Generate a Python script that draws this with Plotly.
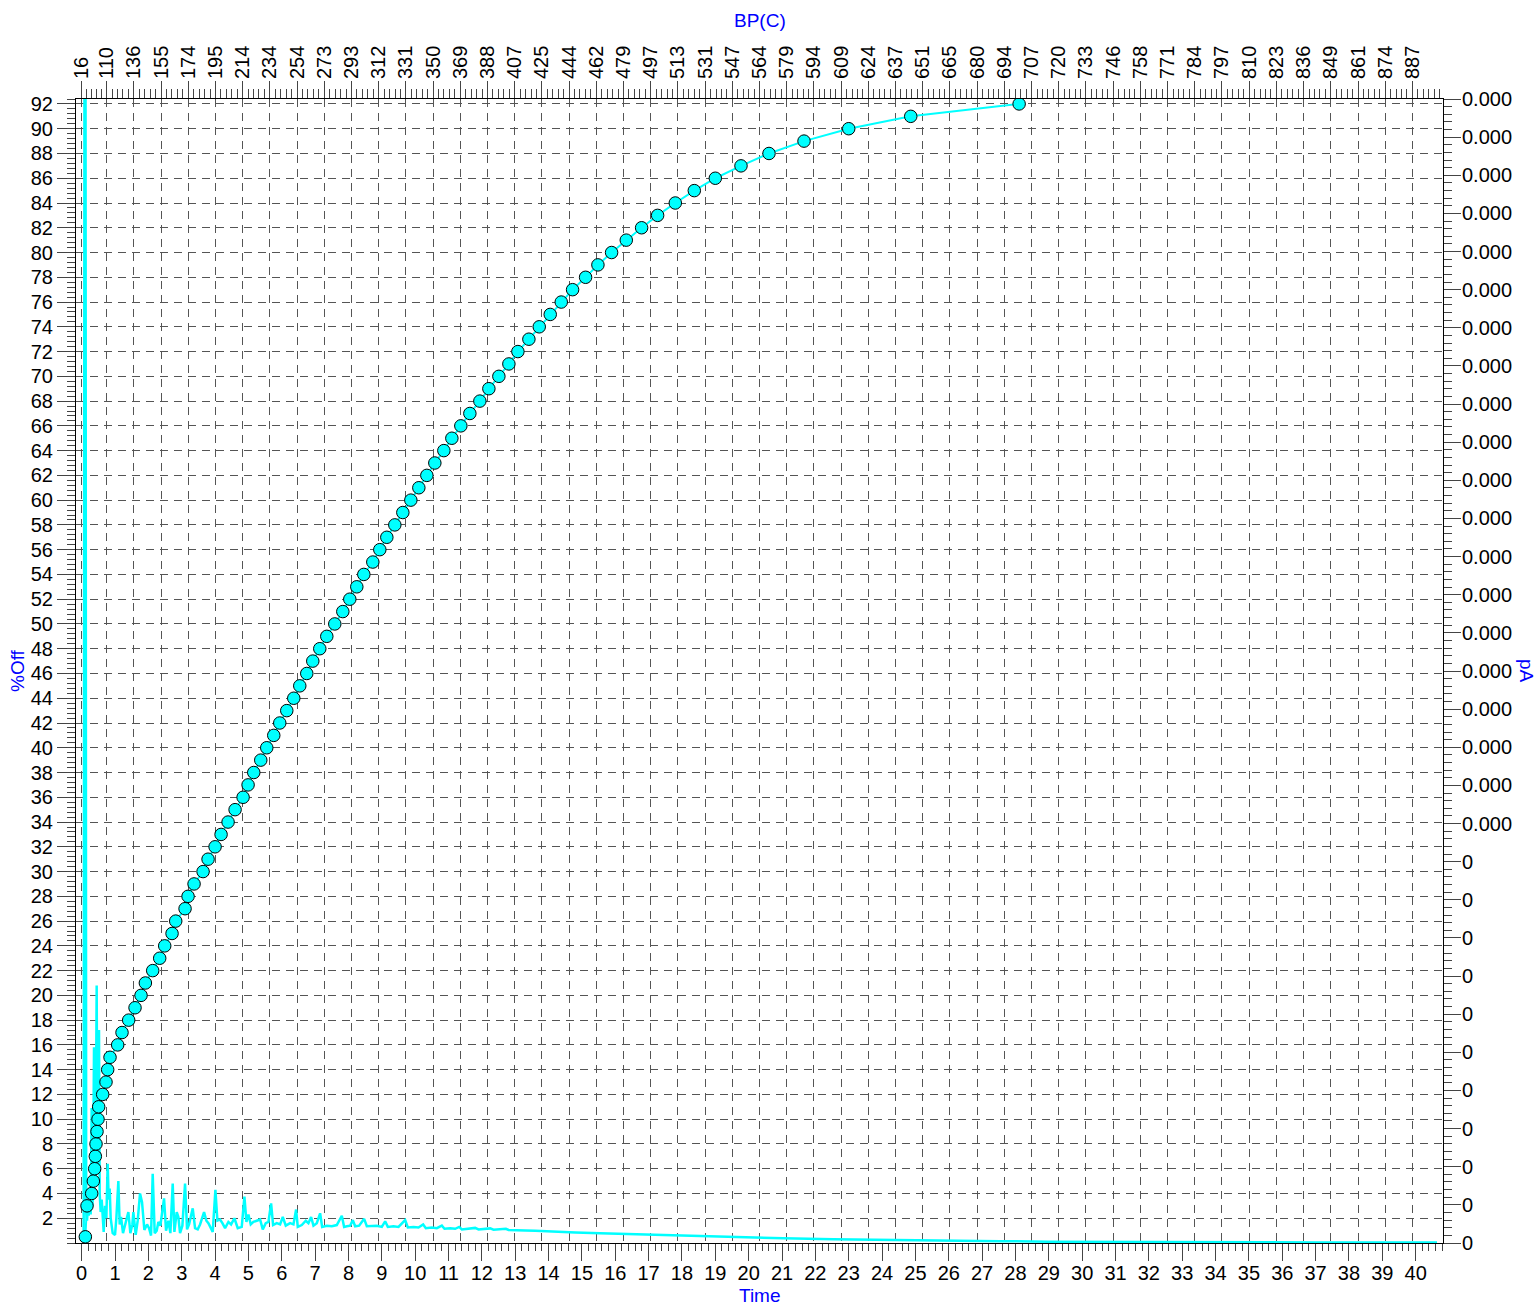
import plotly.graph_objects as go

# ---------------- data ----------------
# Simulated-distillation curve: %Off vs retention time (min)
pct_off = [0.5] + list(range(3, 93))
time_min = [0.11, 0.16, 0.30, 0.35, 0.39, 0.41, 0.43, 0.46, 0.49, 0.51,
            0.63, 0.73, 0.78, 0.85, 1.08, 1.21, 1.41, 1.60, 1.78, 1.91,
            2.13, 2.34, 2.49, 2.71, 2.82, 3.10, 3.19, 3.37, 3.64, 3.79,
            4.00, 4.18, 4.39, 4.60, 4.84, 4.99, 5.16, 5.37, 5.55, 5.76,
            5.94, 6.15, 6.36, 6.54, 6.75, 6.93, 7.14, 7.35, 7.59, 7.83,
            8.04, 8.25, 8.46, 8.73, 8.94, 9.15, 9.39, 9.63, 9.87, 10.11,
            10.35, 10.59, 10.86, 11.10, 11.37, 11.64, 11.94, 12.21, 12.51, 12.81,
            13.08, 13.41, 13.72, 14.05, 14.38, 14.72, 15.11, 15.48, 15.89, 16.33,
            16.79, 17.27, 17.80, 18.37, 19.00, 19.77, 20.61, 21.66, 23.00, 24.86,
            28.11]

# Chromatogram signal (pA axis, plotted on the same visual scale)
chrom_t = [0.00, 0.06, 0.085, 0.115, 0.135, 0.16, 0.18, 0.21, 0.24, 0.27,
           0.30, 0.32, 0.34, 0.37, 0.39, 0.42, 0.45, 0.47, 0.49, 0.52,
           0.54, 0.57, 0.60, 0.63, 0.66, 0.70, 0.74, 0.78, 0.81, 0.84,
           0.87, 0.93, 1.00, 1.04, 1.10, 1.14, 1.18, 1.24, 1.32, 1.40,
           1.46, 1.52, 1.55, 1.62, 1.68, 1.75, 1.81, 1.88, 1.96, 2.02,
           2.08, 2.13, 2.19, 2.25, 2.30, 2.36, 2.47, 2.53, 2.60, 2.66,
           2.73, 2.78, 2.85, 2.90, 2.95, 3.02, 3.10, 3.16, 3.22, 3.33,
           3.40, 3.48, 3.55, 3.67, 3.74, 3.80, 3.93, 4.01, 4.07, 4.15,
           4.22, 4.30, 4.40, 4.48, 4.58, 4.68, 4.80, 4.88, 4.94, 5.00,
           5.07, 5.15, 5.25, 5.35, 5.43, 5.52, 5.60, 5.68, 5.74, 5.85,
           5.95, 6.03, 6.12, 6.25, 6.35, 6.43, 6.48, 6.60, 6.72, 6.80,
           6.88, 6.95, 7.05, 7.15, 7.21, 7.35, 7.50, 7.65, 7.80, 7.87,
           7.95, 8.05, 8.13, 8.20, 8.32, 8.47, 8.55, 8.70, 8.85, 9.00,
           9.10, 9.18, 9.35, 9.50, 9.70, 9.78, 9.95, 10.10, 10.24, 10.32,
           10.50, 10.65, 10.80, 10.88, 11.05, 11.20, 11.32, 11.40, 11.60, 11.80,
           11.90, 12.10, 12.25, 12.35, 12.55, 12.72, 12.80, 13.04, 13.30, 13.60,
           14.04, 14.80, 15.54, 16.30, 17.04, 17.80, 18.54, 19.54, 20.30, 21.04,
           22.54, 24.04, 25.54, 27.54, 29.00, 31.00, 34.00, 37.00, 40.64]
chrom_pA = [0.3, 0.4, 100, 100, 2.5, 1.8, 2.6, 2.2, 3.3, 2.3,
            10.9, 3.0, 4.0, 15.8, 5.0, 8.0, 20.8, 6.0, 9.0, 17.2,
            4.0, 2.5, 3.5, 1.5, 0.9, 3.0, 2.0, 6.4, 3.5, 4.4,
            2.0, 0.8, 0.65, 2.0, 5.0, 1.5, 2.1, 0.8, 1.6, 2.5,
            0.8, 1.5, 2.5, 0.65, 1.8, 4.0, 3.3, 1.05, 1.5, 1.2,
            0.6, 5.6, 0.8, 1.0, 1.7, 1.4, 3.6, 1.0, 1.8, 0.8,
            4.8, 0.9, 2.5, 2.1, 0.8, 1.4, 4.8, 1.1, 1.5, 2.8,
            1.2, 1.1, 1.5, 2.5, 1.8, 1.6, 0.9, 4.3, 1.8, 1.9,
            1.6, 1.2, 1.7, 1.5, 2.0, 1.2, 1.3, 3.75, 1.7, 2.3,
            1.5, 1.7, 1.8, 1.9, 1.1, 1.6, 1.7, 3.2, 1.45, 1.6,
            1.5, 2.1, 1.4, 1.6, 1.5, 2.7, 1.3, 1.45, 1.8, 1.6,
            2.1, 1.4, 1.6, 2.4, 1.3, 1.4, 1.35, 1.45, 2.2, 1.3,
            1.35, 1.4, 1.85, 1.35, 1.4, 1.95, 1.35, 1.35, 1.4, 1.3,
            1.75, 1.3, 1.35, 1.3, 1.85, 1.25, 1.3, 1.25, 1.5, 1.2,
            1.25, 1.2, 1.4, 1.15, 1.2, 1.15, 1.3, 1.1, 1.15, 1.22,
            1.1, 1.12, 1.18, 1.08, 1.1, 1.15, 1.05, 1.05, 1.0, 0.98,
            0.92, 0.85, 0.78, 0.72, 0.65, 0.61, 0.57, 0.47, 0.42, 0.38,
            0.30, 0.24, 0.19, 0.15, 0.11, 0.08, 0.06, 0.05, 0.05]

# Top axis (boiling point, C) tick labels
bp_labels = ["16", "110", "136", "155", "174", "195", "214", "234", "254", "273",
             "293", "312", "331", "350", "369", "388", "407", "425", "444", "462",
             "479", "497", "513", "531", "547", "564", "579", "594", "609", "624",
             "637", "651", "665", "680", "694", "707", "720", "733", "746", "758",
             "771", "784", "797", "810", "823", "836", "849", "861", "874", "887"]

# Right axis (pA) tick labels, bottom to top
pA_labels = ["0"] * 11 + ["0.000"] * 20

# Left axis tick labels
pct_ticks = list(range(2, 93, 2))

# ---------------- layout helpers ----------------
X_RANGE = [-0.17, 40.82]
Y_RANGE = [0, 92.4]
FONT = "Liberation Sans, Arial, sans-serif"
BLUE = "#0000FF"
CYAN = "#00FFFF"
TICKC = "#444444"
GRIDC = "#555555"
DASH = "8px,6px"

bp_step = 0.8157
bp_pos = [0.0] + [0.749 + k * bp_step for k in range(len(bp_labels) - 1)]
bp_minor = []
for a, b in zip(bp_pos[:-1], bp_pos[1:]):
    for j in range(1, 5):
        bp_minor.append(a + (b - a) * j / 5)
p = bp_pos[-1] + bp_step / 5
while p < X_RANGE[1]:
    bp_minor.append(p)
    p += bp_step / 5

pA_step = (Y_RANGE[1] - Y_RANGE[0]) / 30
pA_pos = [k * pA_step for k in range(31)]

fig = go.Figure()

fig.add_trace(go.Scatter(
    x=chrom_t, y=chrom_pA, mode="lines", xaxis="x", yaxis="y",
    line=dict(color=CYAN, width=2.5), showlegend=False, name="pA"))

fig.add_trace(go.Scatter(
    x=[None], y=[None], mode="lines", xaxis="x2", yaxis="y",
    showlegend=False, hoverinfo="skip"))

fig.add_trace(go.Scatter(
    x=time_min, y=pct_off, mode="lines+markers", xaxis="x", yaxis="y2",
    line=dict(color=CYAN, width=2),
    marker=dict(size=12.5, color=CYAN, line=dict(color="black", width=1)),
    showlegend=False, name="%Off"))

tickfont = dict(family=FONT, size=20, color="black")
TS = 19

fig.update_layout(
    width=1538, height=1305, autosize=False,
    margin=dict(l=76, r=95, t=99, b=62, pad=0),
    paper_bgcolor="white", plot_bgcolor="white",
    font=dict(family=FONT, size=20, color="black"),
    xaxis=dict(
        range=X_RANGE, side="bottom", anchor="y",
        tickmode="linear", tick0=0, dtick=1,
        ticks="outside", ticklen=17, tickwidth=1, tickcolor=TICKC,
        ticklabelstandoff=-5,
        minor=dict(dtick=0.2, tick0=0, ticks="outside", ticklen=7,
                   tickwidth=1, tickcolor=TICKC, showgrid=False),
        showline=True, linecolor="black", linewidth=1,
        showgrid=False, zeroline=False, tickfont=tickfont),
    xaxis2=dict(
        range=X_RANGE, overlaying="x", side="top", anchor="y", matches="x",
        tickmode="array", tickvals=bp_pos, ticktext=bp_labels, tickangle=-90,
        ticks="outside", ticklen=17, tickwidth=1, tickcolor=TICKC,
        ticklabelstandoff=-2,
        minor=dict(tickmode="array", tickvals=bp_minor, ticks="outside",
                   ticklen=9, tickwidth=1, tickcolor=TICKC, showgrid=False),
        showline=True, linecolor="black", linewidth=1,
        showgrid=True, gridcolor=GRIDC, gridwidth=1.2, griddash=DASH,
        zeroline=False, tickfont=tickfont),
    yaxis=dict(
        range=Y_RANGE, side="right", anchor="x",
        tickmode="array", tickvals=pA_pos, ticktext=pA_labels,
        ticks="outside", ticklen=17, tickwidth=1, tickcolor=TICKC,
        ticklabelstandoff=-3,
        minor=dict(dtick=pA_step / 5, tick0=0, ticks="outside", ticklen=8,
                   tickwidth=1, tickcolor=TICKC, showgrid=False),
        showline=True, linecolor="black", linewidth=1,
        showgrid=False, zeroline=False, tickfont=tickfont),
    yaxis2=dict(
        range=Y_RANGE, overlaying="y", side="left", anchor="x",
        tickmode="array", tickvals=pct_ticks, ticktext=[str(v) for v in pct_ticks],
        ticks="outside", ticklen=18, tickwidth=1, tickcolor=TICKC,
        minor=dict(dtick=0.4, tick0=0, ticks="outside", ticklen=8,
                   tickwidth=1, tickcolor=TICKC, showgrid=False),
        showline=True, linecolor="black", linewidth=1,
        showgrid=True, gridcolor=GRIDC, gridwidth=1.2, griddash=DASH,
        zeroline=False, tickfont=tickfont),
    annotations=[
        dict(text="BP(C)", xref="paper", yref="paper", x=0.5, y=1,
             xanchor="center", yanchor="middle", yshift=79, showarrow=False,
             font=dict(family=FONT, size=TS, color=BLUE)),
        dict(text="Time", xref="paper", yref="paper", x=0.5, y=0,
             xanchor="center", yanchor="middle", yshift=-52, showarrow=False,
             font=dict(family=FONT, size=TS, color=BLUE)),
        dict(text="%Off", xref="paper", yref="paper", x=0, y=0.5,
             xanchor="center", yanchor="middle", xshift=-59, textangle=-90,
             showarrow=False, font=dict(family=FONT, size=TS, color=BLUE)),
        dict(text="pA", xref="paper", yref="paper", x=1, y=0.5,
             xanchor="center", yanchor="middle", xshift=84, textangle=90,
             showarrow=False, font=dict(family=FONT, size=TS, color=BLUE)),
    ],
)

fig.write_html(
    "out.html",
    config={"displayModeBar": False},
    post_script="document.body.style.margin='0px';document.body.style.overflow='hidden';",
)
